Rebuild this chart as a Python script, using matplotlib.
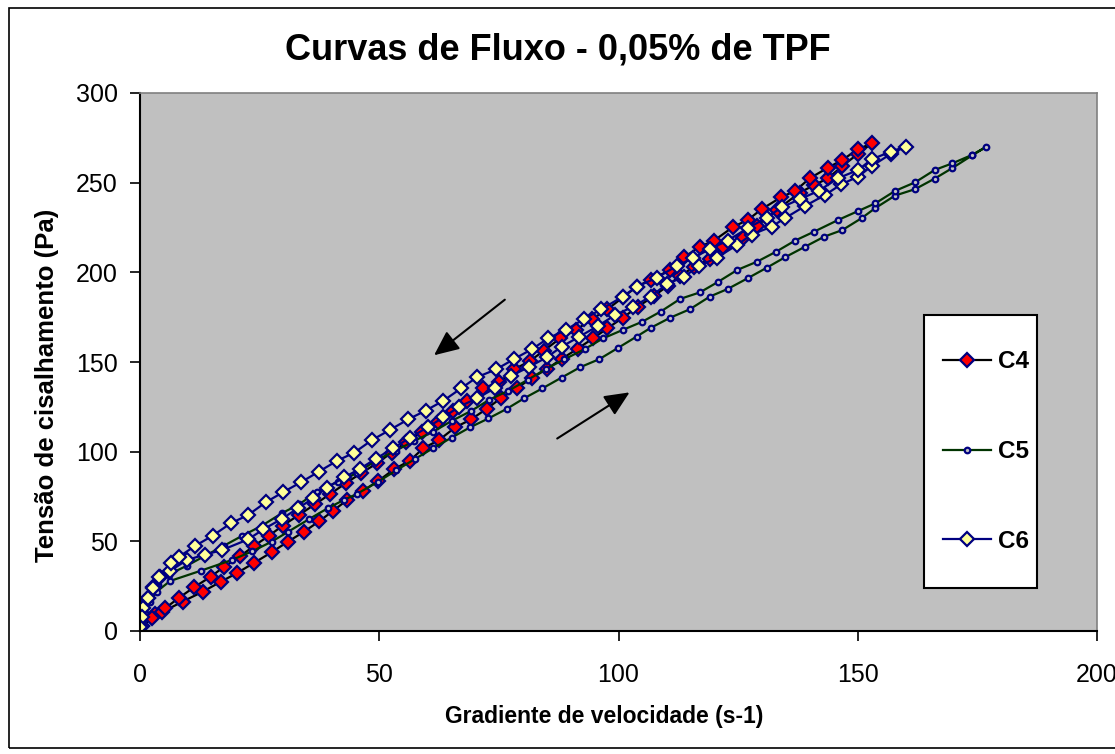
import matplotlib
matplotlib.use('Agg')
import matplotlib.pyplot as plt
from matplotlib.patches import Rectangle

plt.rcParams['font.family'] = ['Liberation Sans', 'DejaVu Sans']

# C4 - subida (curva de baixo) e descida (curva de cima)
c4_x = [0.5, 3.1, 4.5, 8.9, 13.1, 16.9, 20.2, 23.9, 27.5, 30.9, 34.3, 37.5, 40.4, 43.3, 46.5, 49.8,
        53.1, 56.4, 59.2, 62.5, 65.9, 69.2, 72.5, 75.4, 78.7, 82.0, 85.0, 88.1, 91.5, 94.7, 97.7,
        100.9, 104.1, 107.5, 110.3, 112.9, 115.8, 119.1, 121.9, 126.1, 128.9, 133.2, 137.9, 140.8,
        143.8, 146.8, 150.0, 153.0,
        150.0, 146.8, 143.8, 140.0, 136.9, 134.0, 129.9, 127.0, 124.0, 119.9, 117.0, 113.7, 110.8,
        106.7, 103.8, 100.9, 97.7, 94.4, 91.1, 87.8, 84.4, 81.5, 78.2, 75.1, 71.6, 68.4, 65.5, 62.2,
        58.9, 55.6, 52.6, 49.5, 46.2, 43.0, 39.8, 36.6, 33.2, 29.8, 27.0, 23.8, 21.0, 17.6, 14.8,
        11.3, 8.2, 5.2, 2.5, 0.5]
c4_y = [3.0, 9.3, 10.4, 16.4, 21.9, 27.5, 32.2, 38.1, 43.9, 49.8, 55.4, 61.3, 67.1, 73.1, 78.0, 83.7,
        90.2, 95.0, 101.9, 106.5, 113.6, 118.0, 124.0, 129.8, 135.3, 141.3, 146.0, 151.7, 157.5, 163.2,
        168.8, 174.7, 180.9, 187.0, 192.5, 198.2, 202.9, 207.4, 214.3, 219.0, 225.9, 235.0, 244.5,
        248.5, 252.5, 259.3, 266.0, 272.0,
        268.6, 262.7, 258.4, 252.5, 245.4, 241.9, 235.2, 229.2, 225.4, 217.6, 214.3, 208.4, 201.3,
        195.8, 192.0, 186.0, 179.4, 173.8, 167.9, 163.2, 156.3, 150.6, 145.9, 138.7, 135.3, 128.4,
        122.7, 116.7, 110.8, 105.2, 99.5, 93.5, 88.0, 82.4, 76.5, 70.7, 64.7, 58.7, 53.2, 47.4, 41.8,
        35.9, 30.3, 24.4, 18.6, 12.6, 7.0, 3.0]

# C5
c5_x = [0.0, 0.8, 2.0, 3.5, 6.3, 12.7, 19.2, 23.5, 27.5, 31.0, 35.4, 39.2, 42.6, 45.3, 49.8, 53.5,
        57.5, 61.3, 65.1, 69.0, 72.8, 76.6, 80.3, 84.1, 88.1, 92.0, 96.0, 99.8, 103.8, 106.7, 110.8,
        114.9, 119.1, 122.8, 127.0, 131.0, 134.8, 139.0, 143.0, 146.8, 150.8, 153.6, 157.8, 162.0,
        166.1, 169.8, 173.9, 176.8,
        173.9, 169.8, 166.1, 162.0, 157.8, 153.7, 150.1, 145.9, 140.9, 136.9, 133.0, 129.0, 124.8,
        120.7, 117.0, 112.9, 108.8, 105.0, 100.9, 96.8, 93.0, 88.7, 84.8, 81.0, 77.0, 72.9, 69.2,
        65.1, 61.2, 57.3, 53.4, 49.5, 45.3, 41.4, 37.0, 33.3, 29.6, 25.4, 21.3, 17.5, 13.5, 9.8,
        6.0, 3.8, 2.1, 1.0, 0.0]
c5_y = [2.0, 9.0, 16.0, 22.0, 27.9, 33.6, 39.6, 44.5, 49.8, 55.4, 62.5, 68.4, 73.1, 76.4, 83.3, 89.5,
        96.0, 102.0, 107.8, 113.6, 118.5, 123.8, 129.8, 135.3, 141.3, 147.1, 151.6, 157.7, 164.2,
        169.0, 174.7, 179.4, 186.5, 190.7, 196.7, 202.6, 208.4, 214.3, 219.9, 223.6, 230.2, 235.7,
        242.8, 246.4, 252.3, 258.2, 265.2, 269.9,
        265.5, 260.8, 257.1, 250.2, 245.4, 238.5, 234.2, 229.2, 222.7, 217.7, 211.6, 206.0, 201.3,
        194.5, 188.8, 185.2, 178.1, 172.5, 167.9, 163.2, 157.3, 151.5, 146.1, 140.0, 134.0, 128.8,
        122.7, 117.1, 111.0, 106.0, 100.5, 95.4, 88.0, 83.3, 77.7, 70.7, 65.6, 58.6, 53.0, 47.5,
        41.8, 36.4, 31.5, 25.7, 19.0, 10.0, 2.0]

# C6
c6_x = [0.0, 0.0, 0.5, 1.6, 2.8, 4.2, 6.3, 9.8, 13.5, 17.2, 22.6, 25.8, 29.6, 33.0, 36.2, 39.0, 42.7,
        46.0, 49.3, 52.9, 56.4, 60.1, 63.4, 66.7, 70.5, 74.1, 77.5, 81.2, 85.0, 88.1, 91.8, 95.7,
        99.3, 103.1, 106.7, 110.1, 113.7, 116.9, 120.6, 124.8, 127.8, 132.0, 134.8, 139.0, 143.2,
        146.5, 150.1, 152.9, 156.9, 160.0,
        156.9, 152.9, 150.1, 145.9, 141.8, 137.9, 134.1, 131.0, 127.0, 122.8, 119.1, 115.6, 112.2,
        108.0, 103.8, 100.9, 96.4, 92.7, 89.0, 85.3, 82.0, 78.2, 74.5, 70.4, 67.1, 63.4, 59.7, 56.1,
        52.2, 48.5, 44.8, 41.1, 37.4, 33.6, 29.9, 26.3, 22.6, 19.0, 15.2, 11.5, 8.2, 6.5, 4.0, 2.8,
        1.7, 0.7, 0.5, 0.0]
c6_y = [2.4, 6.0, 12.6, 18.2, 24.8, 30.0, 33.5, 39.6, 42.5, 45.2, 51.1, 56.7, 62.5, 68.4, 74.0, 79.9,
        85.7, 90.5, 96.1, 101.9, 107.8, 113.6, 119.1, 125.1, 129.8, 135.3, 142.2, 147.1, 152.6,
        158.5, 164.1, 170.1, 176.2, 180.9, 186.5, 193.4, 197.6, 203.6, 208.2, 215.3, 221.0, 225.5,
        230.2, 237.0, 243.2, 249.0, 253.4, 259.2, 266.0, 270.1,
        267.3, 263.0, 257.1, 252.5, 245.4, 240.8, 236.3, 230.5, 224.6, 217.7, 213.0, 208.0, 203.6,
        197.0, 192.0, 186.5, 179.4, 173.8, 167.9, 163.2, 157.3, 151.7, 146.0, 141.5, 135.3, 128.4,
        122.9, 118.1, 112.1, 106.5, 99.5, 94.8, 88.9, 82.9, 77.4, 71.8, 64.7, 60.1, 53.2, 47.4,
        41.5, 38.1, 30.3, 23.8, 18.2, 12.6, 8.0, 2.4]

fig = plt.figure(figsize=(11.15, 7.54), dpi=100)
ax = fig.add_axes([140 / 1115, 123 / 754, 957 / 1115, 538 / 754])
ax.set_facecolor('#C0C0C0')

ax.plot(c4_x, c4_y, color='black', lw=1.6, marker='D', ms=7, mfc='red', mec='#000080', mew=1.6, label='C4')
ax.plot(c5_x, c5_y, color='#003300', lw=1.6, marker='o', ms=4, mfc='#C0C0C0', mec='#000080', mew=1.6, label='C5')
ax.plot(c6_x, c6_y, color='#000080', lw=1.6, marker='D', ms=7, mfc='#FFFF99', mec='#000080', mew=1.6, label='C6')

# setas de subida e descida
seta = dict(arrowstyle='-|>,head_length=0.4,head_width=0.18', color='black', lw=1.5, mutation_scale=38)
ax.annotate('', xy=(61.0, 152.8), xytext=(76.7, 185.7), arrowprops=seta)
ax.annotate('', xy=(102.8, 133.9), xytext=(86.7, 106.5), arrowprops=seta)

ax.set_xlim(0, 200)
ax.set_ylim(0, 300)
ax.set_xticks([0, 50, 100, 150, 200])
ax.set_yticks([0, 50, 100, 150, 200, 250, 300])
ax.tick_params(direction='out', length=7, width=1.2, labelsize=18)
ax.tick_params(axis='x', pad=16)
ax.tick_params(axis='y', pad=9)
for s in ['left', 'bottom']:
    ax.spines[s].set_color('black')
    ax.spines[s].set_linewidth(1.5)
for s in ['top', 'right']:
    ax.spines[s].set_color('#808080')
    ax.spines[s].set_linewidth(1.2)

# caixa da legenda
ax.add_patch(Rectangle((0.8192, 0.0799), 0.1181, 0.5074, transform=ax.transAxes,
                       facecolor='white', edgecolor='black', lw=1.5, zorder=4))
leg = ax.legend(loc='center', bbox_to_anchor=(0.884, 0.3336), frameon=False,
                prop={'weight': 'bold', 'size': 17.5},
                handlelength=1.95, labelspacing=2.75, borderpad=0.6, handletextpad=0.3)
leg.set_zorder(5)

fig.text(0.5, 1 - 50 / 754, 'Curvas de Fluxo - 0,05% de TPF', ha='center', va='center',
         fontsize=26, fontweight='bold')
fig.text(47 / 1115, 1 - 385 / 754, 'Tensão de cisalhamento (Pa)', ha='center', va='center',
         rotation=90, fontsize=18.5, fontweight='bold')
fig.text(604 / 1115, 1 - 717 / 754, 'Gradiente de velocidade (s-1)', ha='center', va='center',
         fontsize=16.5, fontweight='bold')

# moldura do grafico (lado direito fica fora da imagem)
fig.patches.append(Rectangle((9 / 1115, 6 / 754), 1120 / 1115, 740 / 754, transform=fig.transFigure,
                             fill=False, edgecolor='black', lw=1.2))

fig.savefig('out.png', dpi=100)
